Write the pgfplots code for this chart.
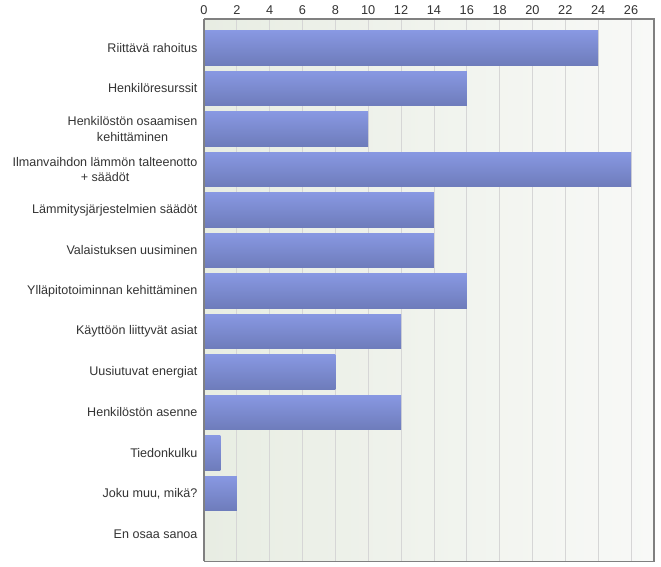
\documentclass[border=0pt]{standalone}
\usepackage{pgfplots}
\pgfplotsset{compat=1.18}
\usepackage{fontspec}
\setmainfont{Liberation Sans}
\definecolor{bartop}{HTML}{8898E2}
\definecolor{barbot}{HTML}{6E7CBB}
\definecolor{bgleft}{HTML}{E8EDE3}
\definecolor{bgright}{HTML}{F8F9F7}
\definecolor{gridc}{HTML}{D6D6D6}
\definecolor{framec}{HTML}{808080}
\definecolor{txt}{HTML}{333333}
\begin{document}
\begin{tikzpicture}
\begin{axis}[
  name=ax,
  scale only axis,
  width=450bp, height=542bp,
  xmin=0, xmax=27.4,
  ymin=-0.716, ymax=12.67,
  y dir=reverse,
  axis x line*=top,
  xtick={0,2,...,26},
  xticklabel pos=top,
  ytick={0,...,12},
  yticklabels={Riittävä rahoitus,Henkilöresurssit,{Henkilöstön osaamisen\\kehittäminen},{Ilmanvaihdon lämmön talteenotto\\+ säädöt},Lämmitysjärjestelmien säädöt,Valaistuksen uusiminen,Ylläpitotoiminnan kehittäminen,Käyttöön liittyvät asiat,Uusiutuvat energiat,Henkilöstön asenne,Tiedonkulku,{Joku muu, mikä?},En osaa sanoa},
  yticklabel style={align=center, font=\fontsize{12.6}{15.7}\selectfont, text=txt, xshift=-3bp},
  xticklabel style={font=\fontsize{12.8}{14}\selectfont, text=txt, yshift=1bp},
  /pgf/number format/assume math mode=true,
  major tick length=0pt,
  xmajorgrids,
  grid style={gridc, line width=0.8bp},
  axis line style={framec, line width=1bp},
  axis background/.style={left color=bgleft, right color=bgright},
  xbar, bar width=34.5bp, bar shift=0pt,
  every axis plot/.append style={draw=none, top color=bartop, bottom color=barbot},
]
\addplot coordinates {(24,0)};
\addplot coordinates {(16,1)};
\addplot coordinates {(10,2)};
\addplot coordinates {(26,3)};
\addplot coordinates {(14,4)};
\addplot coordinates {(14,5)};
\addplot coordinates {(16,6)};
\addplot coordinates {(12,7)};
\addplot coordinates {(8,8)};
\addplot coordinates {(12,9)};
\addplot coordinates {(1,10)};
\addplot coordinates {(2,11)};
\addplot coordinates {(0,12)};
\end{axis}
\draw[framec, line width=1bp] (ax.south west) rectangle (ax.north east);
\useasboundingbox ([xshift=-204bp,yshift=-6bp]ax.south west) rectangle ([xshift=7bp,yshift=19bp]ax.north east);
\end{tikzpicture}
\end{document}
